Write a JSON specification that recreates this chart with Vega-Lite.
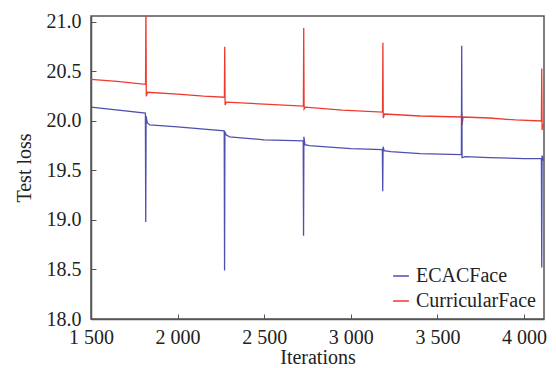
{
  "$schema": "https://vega.github.io/schema/vega-lite/v6.json",
  "width": 453,
  "height": 303,
  "autosize": {"type": "none"},
  "padding": {"left": 91, "top": 16, "right": 12, "bottom": 49},
  "background": "white",
  "config": {
    "font": "Liberation Serif, Times New Roman, serif",
    "view": {"stroke": "#555", "strokeWidth": 1.5},
    "axis": {
      "labelFont": "Liberation Serif, Times New Roman, serif",
      "titleFont": "Liberation Serif, Times New Roman, serif",
      "labelFontSize": 20,
      "titleFontSize": 20,
      "titleFontWeight": "normal",
      "labelColor": "#222",
      "titleColor": "#222",
      "domainColor": "#555",
      "domainWidth": 1.5,
      "tickColor": "#555",
      "tickSize": -5,
      "grid": false
    },
    "legend": {"labelFont": "Liberation Serif, Times New Roman, serif", "labelFontSize": 20, "labelColor": "#222"}
  },
  "data": {
    "values": [
      {"s": "CurricularFace", "x": 1500, "y": 20.42},
      {"s": "CurricularFace", "x": 1650, "y": 20.40},
      {"s": "CurricularFace", "x": 1815, "y": 20.37},
      {"s": "CurricularFace", "x": 1817, "y": 21.2},
      {"s": "CurricularFace", "x": 1819, "y": 20.25},
      {"s": "CurricularFace", "x": 1826, "y": 20.29},
      {"s": "CurricularFace", "x": 2000, "y": 20.27},
      {"s": "CurricularFace", "x": 2150, "y": 20.25},
      {"s": "CurricularFace", "x": 2270, "y": 20.24},
      {"s": "CurricularFace", "x": 2272, "y": 20.75},
      {"s": "CurricularFace", "x": 2274, "y": 20.16},
      {"s": "CurricularFace", "x": 2281, "y": 20.19},
      {"s": "CurricularFace", "x": 2500, "y": 20.17},
      {"s": "CurricularFace", "x": 2726, "y": 20.15},
      {"s": "CurricularFace", "x": 2728, "y": 20.94},
      {"s": "CurricularFace", "x": 2730, "y": 20.12},
      {"s": "CurricularFace", "x": 2737, "y": 20.14},
      {"s": "CurricularFace", "x": 2950, "y": 20.11},
      {"s": "CurricularFace", "x": 3183, "y": 20.09},
      {"s": "CurricularFace", "x": 3185, "y": 20.79},
      {"s": "CurricularFace", "x": 3187, "y": 20.03},
      {"s": "CurricularFace", "x": 3194, "y": 20.07},
      {"s": "CurricularFace", "x": 3400, "y": 20.05},
      {"s": "CurricularFace", "x": 3638, "y": 20.04},
      {"s": "CurricularFace", "x": 3640, "y": 20.08},
      {"s": "CurricularFace", "x": 3642, "y": 19.96},
      {"s": "CurricularFace", "x": 3648, "y": 20.04},
      {"s": "CurricularFace", "x": 3800, "y": 20.03},
      {"s": "CurricularFace", "x": 3950, "y": 20.01},
      {"s": "CurricularFace", "x": 4100, "y": 20.00},
      {"s": "CurricularFace", "x": 4102, "y": 20.53},
      {"s": "CurricularFace", "x": 4104, "y": 19.91},
      {"s": "CurricularFace", "x": 4110, "y": 19.97},
      {"s": "ECACFace", "x": 1500, "y": 20.14},
      {"s": "ECACFace", "x": 1814, "y": 20.08},
      {"s": "ECACFace", "x": 1816, "y": 18.98},
      {"s": "ECACFace", "x": 1818, "y": 20.05},
      {"s": "ECACFace", "x": 1825, "y": 19.98},
      {"s": "ECACFace", "x": 1840, "y": 19.96},
      {"s": "ECACFace", "x": 2000, "y": 19.94},
      {"s": "ECACFace", "x": 2269, "y": 19.90},
      {"s": "ECACFace", "x": 2271, "y": 18.49},
      {"s": "ECACFace", "x": 2273, "y": 19.89},
      {"s": "ECACFace", "x": 2280, "y": 19.86},
      {"s": "ECACFace", "x": 2300, "y": 19.84},
      {"s": "ECACFace", "x": 2500, "y": 19.81},
      {"s": "ECACFace", "x": 2725, "y": 19.80},
      {"s": "ECACFace", "x": 2727, "y": 18.84},
      {"s": "ECACFace", "x": 2729, "y": 19.84},
      {"s": "ECACFace", "x": 2735, "y": 19.76},
      {"s": "ECACFace", "x": 2760, "y": 19.75},
      {"s": "ECACFace", "x": 3000, "y": 19.72},
      {"s": "ECACFace", "x": 3182, "y": 19.71},
      {"s": "ECACFace", "x": 3184, "y": 19.29},
      {"s": "ECACFace", "x": 3186, "y": 19.74},
      {"s": "ECACFace", "x": 3192, "y": 19.70},
      {"s": "ECACFace", "x": 3230, "y": 19.69},
      {"s": "ECACFace", "x": 3400, "y": 19.67},
      {"s": "ECACFace", "x": 3638, "y": 19.66},
      {"s": "ECACFace", "x": 3640, "y": 20.76},
      {"s": "ECACFace", "x": 3642, "y": 19.63},
      {"s": "ECACFace", "x": 3660, "y": 19.64},
      {"s": "ECACFace", "x": 3800, "y": 19.63},
      {"s": "ECACFace", "x": 4000, "y": 19.62},
      {"s": "ECACFace", "x": 4100, "y": 19.62},
      {"s": "ECACFace", "x": 4102, "y": 18.52},
      {"s": "ECACFace", "x": 4104, "y": 19.65},
      {"s": "ECACFace", "x": 4112, "y": 19.60}
    ]
  },
  "mark": {"type": "line", "strokeWidth": 1.3, "clip": true},
  "encoding": {
    "x": {
      "field": "x", "type": "quantitative",
      "scale": {"domain": [1500, 4115], "nice": false, "zero": false},
      "axis": {
        "title": "Iterations",
        "values": [1500, 2000, 2500, 3000, 3500, 4000],
        "labelExpr": "replace(format(datum.value, ','), ',', ' ')",
        "labelPadding": 13,
        "titlePadding": 0,
        "labelFlush": false
      }
    },
    "y": {
      "field": "y", "type": "quantitative",
      "scale": {"domain": [18.0, 21.06], "nice": false, "zero": false},
      "axis": {
        "title": "Test loss",
        "values": [18.0, 18.5, 19.0, 19.5, 20.0, 20.5, 21.0],
        "format": ".1f",
        "labelPadding": 15,
        "titlePadding": 12
      }
    },
    "color": {
      "field": "s", "type": "nominal",
      "scale": {"domain": ["ECACFace", "CurricularFace"], "range": ["#4f4fb0", "#ee3a2e"]},
      "legend": {
        "title": null,
        "orient": "bottom-right",
        "symbolType": "stroke",
        "symbolSize": 250,
        "symbolStrokeWidth": 1.5,
        "labelOffset": 5,
        "rowPadding": 5,
        "offset": 8
      }
    }
  }
}
